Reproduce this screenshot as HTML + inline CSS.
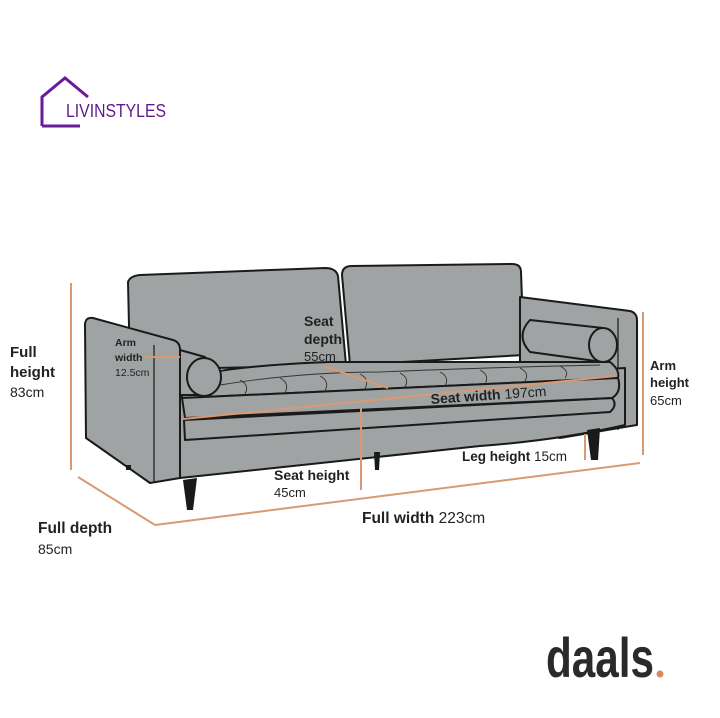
<!DOCTYPE html>
<html><head><meta charset="utf-8"><style>
html,body{margin:0;padding:0;background:#fff;}
svg{display:block}
text{font-family:"Liberation Sans",sans-serif;fill:#222}
.b{font-weight:bold}
</style></head><body>
<svg width="720" height="718" viewBox="0 0 720 718" xmlns="http://www.w3.org/2000/svg">
<path d="M42 126 L42 97 L65 78 L88 97" fill="none" stroke="#6a1b9a" stroke-width="3"/>
<path d="M42 126 L80 126" fill="none" stroke="#6a1b9a" stroke-width="3"/>
<text x="66" y="117" font-size="18" textLength="100" lengthAdjust="spacingAndGlyphs" style="fill:#5e1a8c">LIVINSTYLES</text>

<g stroke="#1a1a1a" stroke-width="2" stroke-linejoin="round" fill="#a0a3a3">
<path d="M128 282 Q130 276 140 275 L325 268 Q336 268 338 276 L346 365 L130 370 Z"/>
<path d="M342 275 Q342 266 352 266 L512 264 Q521 264 521 272 L524 355 L350 365 Z"/>
<path d="M520 297 L630 311 Q637 313 637 320 L637 425 L560 438 L520 430 Z"/>
<path d="M618 318 L618 430" fill="none" stroke-width="1.2"/>
<path d="M178 395 L625 368 L625 425 Q560 440 480 446 L180 478 Z"/>
<path d="M180 380 Q220 366 330 362 L610 362 Q620 370 618 378 L182 398 Z"/>
<path d="M182 398 L618 378 Q622 392 612 398 L185 418 Z"/>
<path d="M184 420 L612 398 Q618 405 610 412 L185 440 Z" fill="none"/>
<path d="M85 325 Q85 317 93 318 L173 340 Q180 342 180 350 L180 478 L150 483 L86 438 Z"/>
<path d="M154 345 L154 482" fill="none" stroke-width="1.2"/>
<path d="M205 357 L180 350 L180 395 L205 395 Z"/>
<ellipse cx="204" cy="377" rx="17" ry="19"/>
<path d="M530 320 L603 328 L603 362 L530 352 Q515 336 530 320 Z"/>
<ellipse cx="603" cy="345" rx="14" ry="17"/>
</g>
<g stroke="#333" stroke-width="0.9" fill="none">
<path d="M220 385 Q300 372 380 372 Q470 368 600 365"/>
<path d="M240 380 q10 5 5 14 M280 378 q10 5 5 15 M320 376 q10 5 5 15 M360 374 q10 5 5 15 M400 373 q10 5 5 14 M440 372 q10 5 5 14 M480 370 q10 5 5 14 M520 368 q10 5 5 13 M560 366 q10 5 5 12"/>
</g>
<g fill="#1a1a1a">
<path d="M183 480 L197 478 L193 510 L187 510 Z"/>
<path d="M374 452 L380 452 L379 470 L375 470 Z"/>
<path d="M587 430 L600 428 L598 460 L591 460 Z"/>
<path d="M126 465 L131 465 L131 470 L126 470 Z"/>
</g>
<g stroke="#d99a72" stroke-width="2" fill="none">
<path d="M71 283 L71 470"/>
<path d="M78 477 L155 525"/>
<path d="M155 525 L640 463"/>
<path d="M643 312 L643 455"/>
<path d="M146 357 L180 357"/>
<path d="M323 366 L388 388"/>
<path d="M183 419 L616 376"/>
<path d="M361 408 L361 490"/>
<path d="M585 434 L585 460"/>
</g>
<text x="10" y="357" font-size="15" class="b">Full</text>
<text x="10" y="377" font-size="15" class="b">height</text>
<text x="10" y="397" font-size="14">83cm</text>
<text x="115" y="346" font-size="10.5" class="b">Arm</text>
<text x="115" y="361" font-size="10.5" class="b">width</text>
<text x="115" y="376" font-size="10.5">12.5cm</text>
<text x="304" y="326" font-size="14" class="b">Seat</text>
<text x="304" y="344" font-size="14" class="b">depth</text>
<text x="304" y="361" font-size="13">55cm</text>
<text x="431" y="404" font-size="14" transform="rotate(-4 431 404)"><tspan class="b">Seat width</tspan> 197cm</text>
<text x="274" y="480" font-size="14" class="b">Seat height</text>
<text x="274" y="497" font-size="13">45cm</text>
<text x="462" y="461" font-size="13.5"><tspan class="b">Leg height</tspan> 15cm</text>
<text x="362" y="523" font-size="15.5"><tspan class="b">Full width</tspan> 223cm</text>
<text x="38" y="533" font-size="15.5" class="b">Full depth</text>
<text x="38" y="554" font-size="14">85cm</text>
<text x="650" y="370" font-size="13" class="b">Arm</text>
<text x="650" y="387" font-size="13" class="b">height</text>
<text x="650" y="405" font-size="13">65cm</text>
<text x="546" y="677" font-size="56" class="b" textLength="108" lengthAdjust="spacingAndGlyphs" style="fill:#2a2a2a">daals</text>
<circle cx="660" cy="674" r="3.5" fill="#d98a5a"/>
</svg>
</body></html>
